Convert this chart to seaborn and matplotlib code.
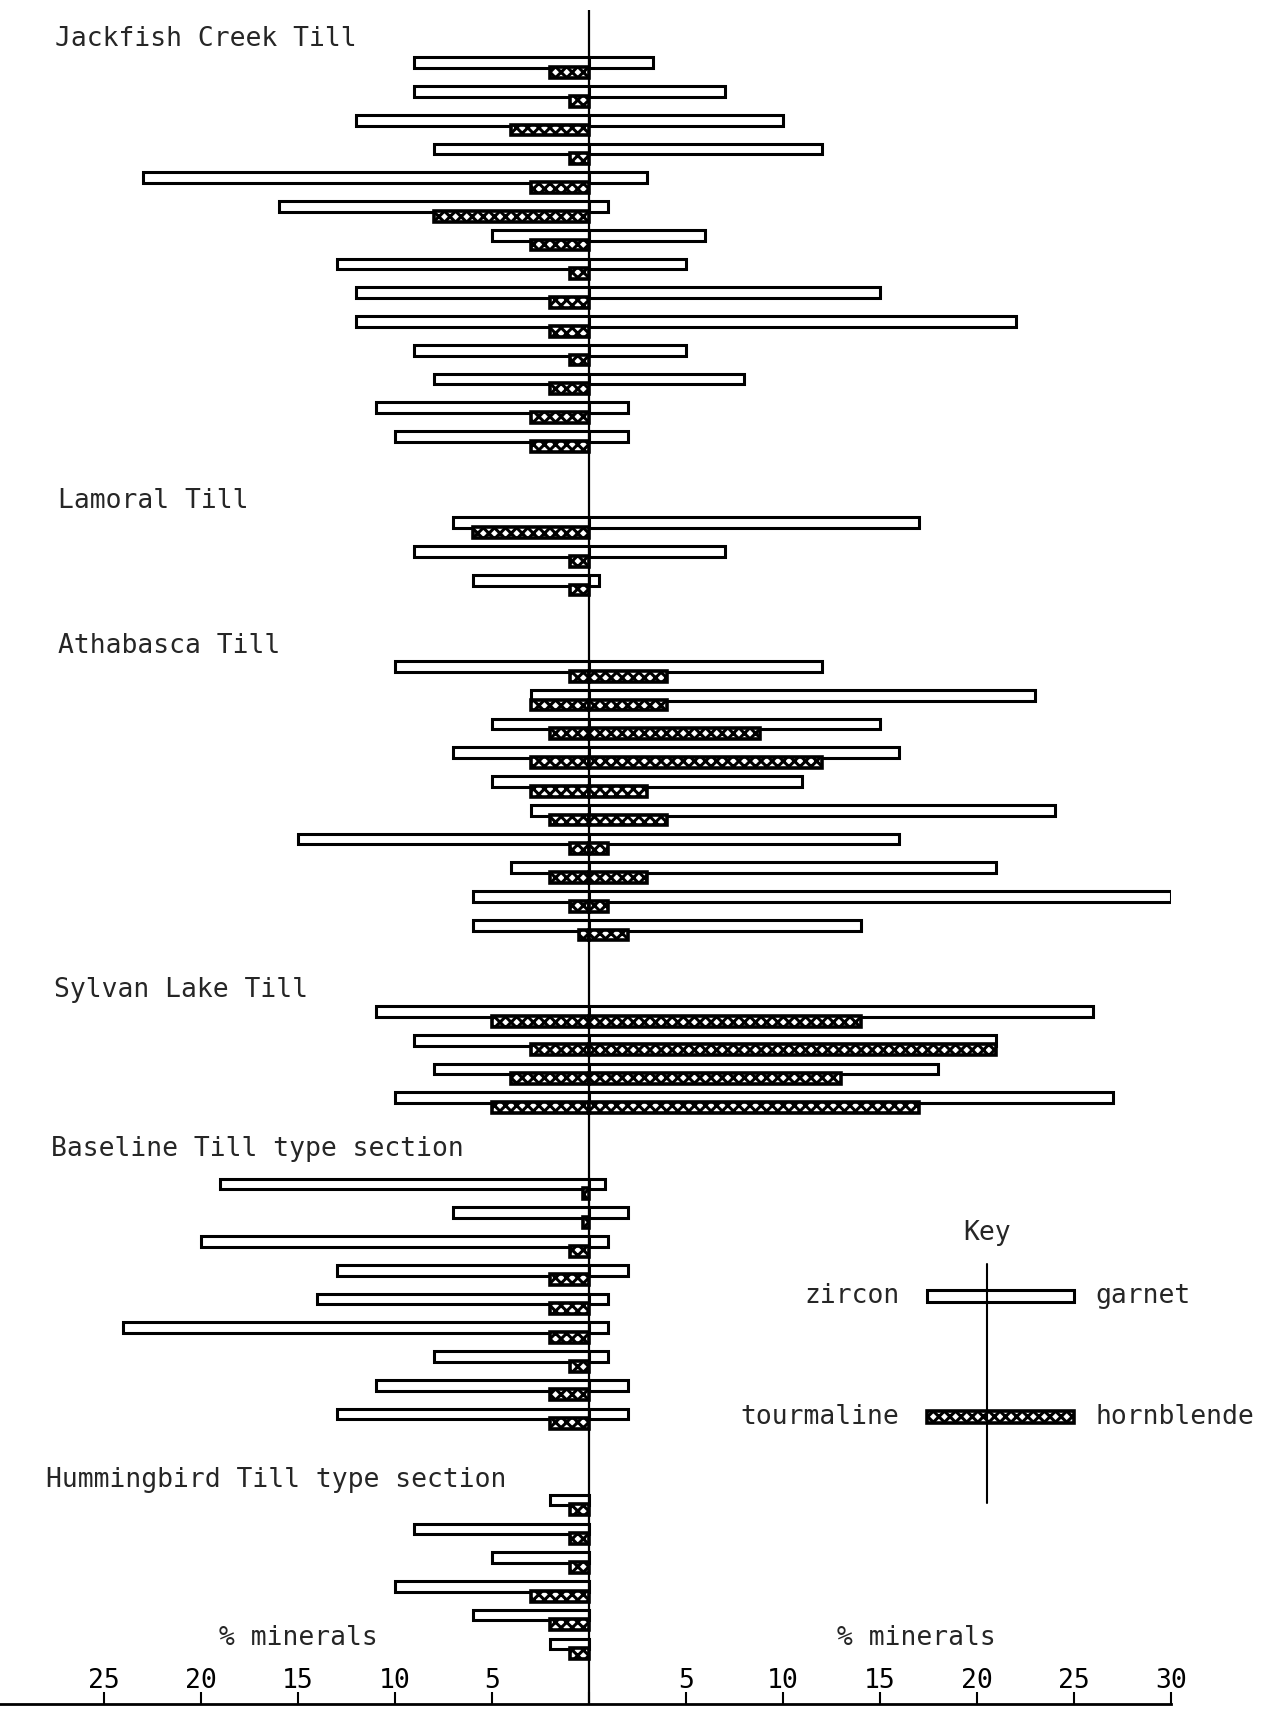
import pandas as pd
import seaborn as sns
import matplotlib.pyplot as plt
from matplotlib.ticker import FuncFormatter

# Heavy-mineral percentages per sample, top to bottom
groups = ["Jackfish Creek Till", "Lamoral Till", "Athabasca Till",
          "Sylvan Lake Till", "Baseline Till type section",
          "Hummingbird Till type section"]
group_sizes = [14, 3, 10, 4, 9, 6]

zircon = [9, 9, 12, 8, 23, 16, 5, 13, 12, 12, 9, 8, 11, 10,   # Jackfish
          7, 9, 6,                                            # Lamoral
          10, 3, 5, 7, 5, 3, 15, 4, 6, 6,                     # Athabasca
          11, 9, 8, 10,                                       # Sylvan Lake
          19, 7, 20, 13, 14, 24, 8, 11, 13,                   # Baseline
          2, 9, 5, 10, 6, 2]                                  # Hummingbird
garnet = [3.3, 7, 10, 12, 3, 1, 6, 5, 15, 22, 5, 8, 2, 2,
          17, 7, 0.5,
          12, 23, 15, 16, 11, 24, 16, 21, 30, 14,
          26, 21, 18, 27,
          0.8, 2, 1, 2, 1, 1, 1, 2, 2,
          0, 0, 0, 0, 0, 0]
tourmaline = [2, 1, 4, 1, 3, 8, 3, 1, 2, 2, 1, 2, 3, 3,
              6, 1, 1,
              1, 3, 2, 3, 3, 2, 1, 2, 1, 0.5,
              5, 3, 4, 5,
              0.3, 0.3, 1, 2, 2, 2, 1, 2, 2,
              1, 1, 1, 3, 2, 1]
hornblende = [0] * 14 + [0, 0, 0] + \
             [4, 4, 8.8, 12, 3, 4, 1, 3, 1, 2] + \
             [14, 21, 13, 17] + [0] * 9 + [0] * 6

xticks = [-25, -20, -15, -10, -5, 0, 5, 10, 15, 20, 25, 30]

# row positions: groups separated by a gap of two empty rows
rows, starts = [], []
pos = 0
for n in group_sizes:
    starts.append(pos)
    rows += list(range(pos, pos + n))
    pos += n + 2

df = pd.DataFrame({"pos": rows, "zircon": zircon, "garnet": garnet,
                   "tourmaline": tourmaline, "hornblende": hornblende})
df["pos2"] = df["pos"] + 0.34

sns.set_style("white")
plt.rcParams["font.family"] = ["DejaVu Sans Mono"]
plt.rcParams["hatch.linewidth"] = 2.2

fig = plt.figure(figsize=(12.68, 17.10), dpi=100)
ax = fig.add_axes([0, 0.0035, 0.9235, 0.9906])

plain = dict(color="white", edgecolor="black", linewidth=2.2, saturation=1,
             errorbar=None, orient="y", native_scale=True, ax=ax)
hatched = dict(plain, hatch="xxx", linewidth=2.6)

def side(col, ycol, sign, width, style):
    d = df[df[col] > 0]
    sns.barplot(x=sign * d[col], y=d[ycol], width=width, **style)

side("zircon", "pos", -1, 0.37, plain)
side("garnet", "pos", 1, 0.37, plain)
side("tourmaline", "pos2", -1, 0.38, hatched)
side("hornblende", "pos2", 1, 0.38, hatched)

ax.axvline(0, color="black", lw=1.6, zorder=5)

# group titles
title_dy = [-0.82, -0.74, -0.7, -0.74, -1.2, -0.7]
title_x = [-27.55, -27.38, -27.38, -27.6, -27.72, -28.0]
for name, s, dy, tx in zip(groups, starts, title_dy, title_x):
    ax.text(tx, s + dy, name, ha="left", va="center", fontsize=19)

# key
key_x, key_l, key_r = 20.5, 3.1, 4.5
key_rows = [42.9, 47.1]
ax.text(key_x, 40.7, "Key", ha="center", va="center", fontsize=19)
ax.plot([key_x, key_x], [41.8, 50.1], color="black", lw=1.5, zorder=5)
for ky, hatch, lw, lname, rname in zip(key_rows, [None, "xxx"], [2.2, 2.6],
                                       ["zircon", "tourmaline"],
                                       ["garnet", "hornblende"]):
    ax.barh(ky, key_l + key_r, left=key_x - key_l, height=0.42,
            color="white", edgecolor="black", linewidth=lw, hatch=hatch)
    ax.text(16.0, ky, lname, ha="right", va="center", fontsize=19)
    ax.text(26.1, ky, rname, ha="left", va="center", fontsize=19)

ax.text(-15.0, 54.8, "% minerals", ha="center", va="center", fontsize=19)
ax.text(16.85, 54.8, "% minerals", ha="center", va="center", fontsize=19)

ax.set_xlim(-30.36, 30)
ax.set_ylim(57.09, -1.83)
ax.set_xticks(xticks)
ax.xaxis.set_major_formatter(FuncFormatter(lambda v, p: "" if v == 0 else f"{abs(v):g}"))
ax.tick_params(axis="x", bottom=True, direction="in", length=9, width=1.5,
               pad=-26, labelsize=19, colors="black")
ax.set_yticks([])
ax.set_xlabel("")
ax.set_ylabel("")
for s in ["top", "right", "left"]:
    ax.spines[s].set_visible(False)
ax.spines["bottom"].set_linewidth(2)
ax.spines["bottom"].set_color("black")

fig.savefig("out.png", dpi=100)
